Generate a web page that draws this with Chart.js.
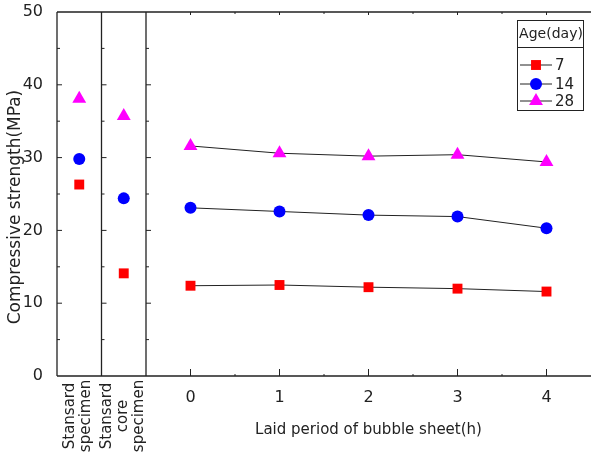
<!DOCTYPE html>
<html>
<head>
<meta charset="utf-8">
<script src="https://cdn.jsdelivr.net/npm/chart.js@4.4.0/dist/chart.umd.min.js"></script>
<style>
  html, body { margin: 0; padding: 0; background: #fff; }
  canvas { display: block; }
</style>
</head>
<body>
<canvas id="chart" width="591" height="458"></canvas>
<script>
// laid period of bubble sheet (h)
const periods = [0, 1, 2, 3, 4];
const specimenNames = [["Stansard", "specimen"], ["Stansard", "core", "specimen"]];
const ages = ["7", "14", "28"];

const period7 = [12.4, 12.5, 12.2, 12.0, 11.6];
const period14 = [23.1, 22.6, 22.1, 21.9, 20.3];
const period28 = [31.6, 30.6, 30.2, 30.4, 29.4];

const specimen7 = [26.3, 14.1];
const specimen14 = [29.8, 24.4];
const specimen28 = [38.1, 35.7];

const FONT = "'DejaVu Sans', 'Liberation Sans', sans-serif";
const INK = "#222";
const colors = ["#ff0000", "#0000ff", "#ff00ff"];
const styles = ["rect", "circle", "triangle"];
const radii = [7, 6, 8];

// specimen columns sit left of the period axis, half a unit wide each
const specimenX = i => -1.25 + 0.5 * i;

const periodSeries = [period7, period14, period28];
const specimenSeries = [specimen7, specimen14, specimen28];

const datasets = [];
ages.forEach((age, k) => {
  const marker = {
    pointStyle: styles[k],
    pointRadius: radii[k],
    pointHoverRadius: radii[k],
    pointBackgroundColor: colors[k],
    pointBorderColor: colors[k],
    pointBorderWidth: 0
  };
  datasets.push({
    label: age,
    data: periods.map((p, i) => ({ x: p, y: periodSeries[k][i] })),
    showLine: true,
    borderColor: INK,
    borderWidth: 1,
    ...marker
  });
  datasets.push({
    label: age + " specimen",
    data: specimenSeries[k].map((v, i) => ({ x: specimenX(i), y: v })),
    showLine: false,
    ...marker
  });
});

const framePlugin = {
  id: "frame",
  beforeDatasetsDraw(chart) {
    const { ctx, chartArea: a, scales: { x, y } } = chart;
    ctx.save();
    ctx.strokeStyle = INK;
    ctx.lineWidth = 1.3;
    ctx.beginPath();
    ctx.moveTo(a.left, a.top); ctx.lineTo(chart.width, a.top);
    ctx.moveTo(a.left, a.bottom); ctx.lineTo(chart.width, a.bottom);
    ctx.moveTo(a.left, a.top); ctx.lineTo(a.left, a.bottom);
    [-1, -0.5].forEach(v => {
      const px = x.getPixelForValue(v);
      ctx.moveTo(px, a.top); ctx.lineTo(px, a.bottom);
    });
    ctx.stroke();

    // inward y ticks on the left axis and on both dividers
    ctx.lineWidth = 1;
    ctx.beginPath();
    for (let v = 5; v < 50; v += 5) {
      const py = y.getPixelForValue(v);
      const len = v % 10 === 0 ? 5 : 3;
      [a.left, x.getPixelForValue(-1), x.getPixelForValue(-0.5)].forEach(px => {
        ctx.moveTo(px, py); ctx.lineTo(px + len, py);
      });
    }
    // x ticks on bottom and top of the period region
    for (let v = 0; v <= 4; v += 0.5) {
      const px = x.getPixelForValue(v);
      const major = Number.isInteger(v);
      ctx.moveTo(px, a.bottom); ctx.lineTo(px, a.bottom - (major ? 7 : 2));
      ctx.moveTo(px, a.top); ctx.lineTo(px, a.top + (major ? 3 : 2));
    }
    ctx.stroke();
    ctx.restore();
  },
  afterDraw(chart) {
    const { ctx, scales: { x } } = chart;
    ctx.save();
    ctx.fillStyle = INK;
    ctx.textAlign = "center";
    ctx.textBaseline = "middle";

    // y axis title
    ctx.font = "17px " + FONT;
    ctx.save();
    ctx.translate(16, 207);
    ctx.rotate(-Math.PI / 2);
    ctx.fillText("Compressive strength(MPa)", 0, 0);
    ctx.restore();

    // x axis title, centred under the period ticks
    ctx.font = "15px " + FONT;
    const midX = (x.getPixelForValue(periods[0]) + x.getPixelForValue(periods[periods.length - 1])) / 2;
    ctx.fillText("Laid period of bubble sheet(h)", midX, 430);

    // rotated specimen labels
    specimenNames.forEach((lines, i) => {
      const cx = x.getPixelForValue(specimenX(i));
      lines.forEach((txt, j) => {
        const off = (j - (lines.length - 1) / 2) * 16;
        ctx.save();
        ctx.translate(cx + off - 1, 416);
        ctx.rotate(-Math.PI / 2);
        ctx.fillText(txt, 0, 0);
        ctx.restore();
      });
    });

    // legend box
    const bx = 517, by = 20, bw = 66, bh = 90;
    ctx.strokeStyle = INK;
    ctx.lineWidth = 1;
    ctx.fillStyle = "#fff";
    ctx.fillRect(bx, by, bw, bh);
    ctx.strokeRect(bx + 0.5, by + 0.5, bw, bh);
    ctx.beginPath();
    ctx.moveTo(bx, 47.5); ctx.lineTo(bx + bw, 47.5);
    ctx.stroke();
    ctx.fillStyle = INK;
    ctx.font = "14px " + FONT;
    ctx.fillText("Age(day)", bx + bw / 2 + 1, 34);
    ctx.font = "15px " + FONT;
    const rows = [65, 84, 101];
    ages.forEach((age, k) => {
      const ly = rows[k];
      ctx.strokeStyle = INK;
      ctx.beginPath();
      ctx.moveTo(520, ly); ctx.lineTo(552, ly);
      ctx.stroke();
      ctx.fillStyle = colors[k];
      ctx.strokeStyle = colors[k];
      Chart.helpers.drawPoint(ctx, { pointStyle: styles[k], radius: radii[k], rotation: 0, borderWidth: 0 }, 536, ly);
      ctx.fillStyle = INK;
      ctx.textAlign = "left";
      ctx.fillText(age, 555, ly + 1);
      ctx.textAlign = "center";
    });
    ctx.restore();
  }
};

new Chart(document.getElementById("chart"), {
  type: "scatter",
  data: { datasets },
  options: {
    responsive: false,
    animation: false,
    layout: { autoPadding: false, padding: { top: 12, right: 0, left: 0, bottom: 0 } },
    plugins: { legend: { display: false }, tooltip: { enabled: false } },
    scales: {
      x: {
        type: "linear",
        min: -1.5,
        max: 4.5,
        grid: { display: false },
        border: { display: false },
        afterFit: s => { s.height = 82; s.paddingLeft = 0; s.paddingRight = 0; },
        ticks: {
          stepSize: 0.5,
          autoSkip: false,
          maxRotation: 0,
          padding: 4,
          color: INK,
          font: { family: FONT, size: 16 },
          callback: v => (v >= 0 && Number.isInteger(v)) ? v : ""
        }
      },
      y: {
        min: 0,
        max: 50,
        grid: { display: false },
        border: { display: false },
        afterFit: s => { s.width = 57; s.paddingTop = 0; s.paddingBottom = 0; },
        ticks: {
          stepSize: 5,
          padding: 6,
          color: INK,
          font: { family: FONT, size: 16 },
          callback: v => v % 10 === 0 ? v : ""
        }
      }
    }
  },
  plugins: [framePlugin]
});
</script>
</body>
</html>
